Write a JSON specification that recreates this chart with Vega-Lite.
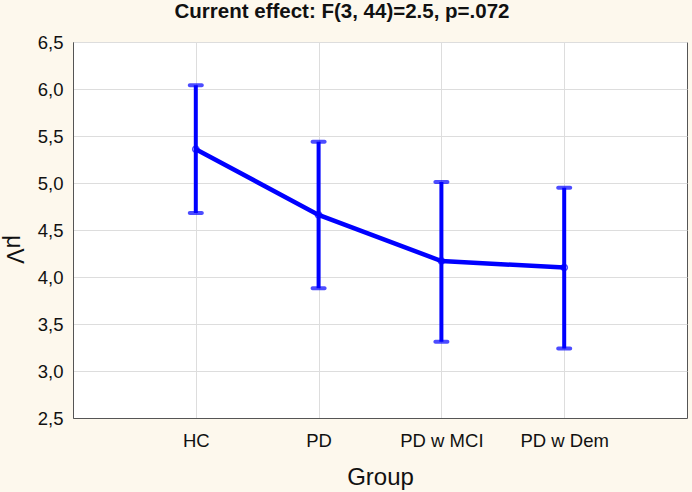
{
  "$schema": "https://vega.github.io/schema/vega-lite/v6.json",
  "width": 614,
  "height": 376,
  "autosize": {"type": "none"},
  "padding": {"left": 73, "top": 42, "right": 5, "bottom": 74},
  "background": "#fdf8ed",
  "config": {
    "font": "Liberation Sans",
    "view": {"fill": "white", "stroke": "#555555", "strokeWidth": 1},
    "axis": {"gridColor": "#dddddd", "gridWidth": 1, "domainColor": "#555555", "labelColor": "#111111", "titleColor": "#111111", "labelFont": "Liberation Sans", "titleFont": "Liberation Sans", "titleFontWeight": "normal"}
  },
  "title": {
    "text": "Current effect: F(3, 44)=2.5, p=.072",
    "fontSize": 20.5,
    "fontWeight": "bold",
    "font": "Liberation Sans",
    "color": "#111111",
    "anchor": "middle",
    "dx": -38,
    "offset": 11
  },
  "data": {
    "values": [
      {"Group": "HC", "mean": 5.36, "lo": 4.68, "hi": 6.04},
      {"Group": "PD", "mean": 4.66, "lo": 3.88, "hi": 5.44},
      {"Group": "PD w MCI", "mean": 4.17, "lo": 3.31, "hi": 5.01},
      {"Group": "PD w Dem", "mean": 4.10, "lo": 3.24, "hi": 4.95}
    ]
  },
  "encoding": {
    "x": {
      "field": "Group",
      "type": "nominal",
      "sort": null,
      "scale": {"type": "point", "padding": 1},
      "axis": {"title": "Group", "labelAngle": 0, "labelFontSize": 18.5, "titleFontSize": 24, "labelPadding": 13, "ticks": false, "titleY": 66, "titleBaseline": "alphabetic", "grid": true}
    }
  },
  "layer": [
    {
      "mark": {"type": "rule", "color": "#0000ff", "strokeWidth": 4},
      "encoding": {
        "y": {"field": "lo", "type": "quantitative", "scale": {"domain": [2.5, 6.5], "nice": false, "zero": false},
          "axis": {"title": "μV", "titleAngle": 90, "titleFontSize": 23, "labelFontSize": 18.5, "values": [2.5, 3, 3.5, 4, 4.5, 5, 5.5, 6, 6.5], "format": ".1f", "labelExpr": "replace(datum.label, '.', ',')", "ticks": false, "labelPadding": 10, "titleX": -60, "titleY": 207, "titleAlign": "center", "titleBaseline": "middle", "grid": true}},
        "y2": {"field": "hi"}
      }
    },
    {
      "mark": {"type": "tick", "color": "#0000ff", "thickness": 4, "size": 16, "cornerRadius": 2},
      "encoding": {"y": {"field": "lo", "type": "quantitative"}}
    },
    {
      "mark": {"type": "tick", "color": "#0000ff", "thickness": 4, "size": 16, "cornerRadius": 2},
      "encoding": {"y": {"field": "hi", "type": "quantitative"}}
    },
    {
      "mark": {"type": "line", "color": "#0000ff", "strokeWidth": 4.5},
      "encoding": {"y": {"field": "mean", "type": "quantitative"}}
    },
    {
      "mark": {"type": "point", "color": "#0000ff", "filled": false, "size": 40, "strokeWidth": 1.5},
      "encoding": {"y": {"field": "mean", "type": "quantitative"}}
    }
  ]
}
